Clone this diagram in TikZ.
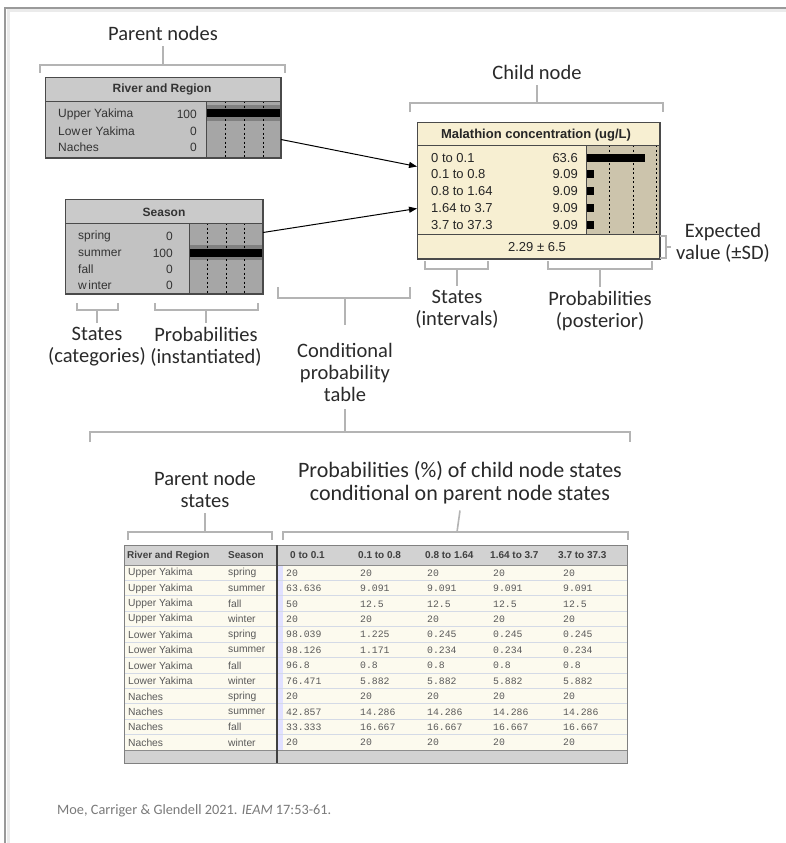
\documentclass[tikz,border=0pt]{standalone}
\usepackage{fontspec}
\setmainfont{Carlito}
\newfontfamily\arialf{Liberation Sans}
\newfontfamily\monof{Liberation Mono}
\usetikzlibrary{arrows.meta}
\definecolor{brkc}{HTML}{B4B4B4}
\definecolor{txtc}{HTML}{2A2A2A}
\definecolor{ptitle}{HTML}{CACACA}
\definecolor{pbody}{HTML}{C2C2C2}
\definecolor{pbar}{HTML}{A6A6A6}
\definecolor{pband}{HTML}{808080}
\definecolor{cbody}{HTML}{F7EFD2}
\definecolor{cbar}{HTML}{CCC4AC}
\definecolor{nborder}{HTML}{4A4A4A}
\definecolor{thead}{HTML}{D2D2D2}
\definecolor{trow}{HTML}{FCFAEE}
\definecolor{tline}{HTML}{D4DAE6}
\definecolor{tfoot}{HTML}{D2D2D2}
\definecolor{ttext}{HTML}{5A5A5A}
\definecolor{citec}{HTML}{7A7A7A}
\definecolor{framec}{HTML}{9A9A9A}
\tikzset{
  annot/.style={font=\fontsize{20.5}{22}\selectfont, text=txtc, align=center, inner sep=0pt},
  annotl/.style={annot, font=\fontsize{22}{23}\selectfont},
  brk/.style={draw=brkc, line width=1.6pt},
  nbox/.style={draw=nborder, line width=1pt, anchor=north west, inner sep=0pt},
  ptxt/.style={font=\arialf\fontsize{12}{12}\selectfont, text=black!80, inner sep=0pt},
  ctxt/.style={font=\arialf\fontsize{13}{13}\selectfont, text=black!85, inner sep=0pt},
  dsh/.style={draw=black, dash pattern=on 2pt off 2.5pt, line width=0.9pt},
  tname/.style={font=\arialf\fontsize{10.3}{10.3}\selectfont, text=ttext, inner sep=0pt, anchor=west},
  tnum/.style={font=\monof\fontsize{9.8}{9.8}\selectfont, text=ttext, inner sep=0pt, anchor=west},
  thd/.style={font=\arialf\bfseries\fontsize{10}{10}\selectfont, text=black!75, inner sep=0pt, anchor=west},
  arr/.style={draw=black, line width=1pt, -{Triangle[length=8pt,width=6pt]}}
}
\begin{document}
\begin{tikzpicture}[x=1pt,y=-1pt]
\useasboundingbox (0,0) rectangle (786,843);
\fill[white] (0,0) rectangle (786,843);
% frame
\draw[black!8, line width=3pt] (8,843) -- (8,11) -- (786,11);
\draw[framec, line width=1.3pt] (5,843) -- (5,8) -- (786,8);

% ---------- River and Region ----------
\node[nbox, fill=pbody, minimum width=235pt, minimum height=80pt] (river) at (45,77) {};
\fill[ptitle] (45.5,77.5) rectangle (279.5,101);
\fill[pbar] (206,101) rectangle (279.5,156.5);
\fill[pband] (206,105) rectangle (279.5,121);
\fill[black] (206,109) rectangle (279.5,117);
\foreach \xx in {225,244,263} {\draw[dsh] (\xx,101) -- (\xx,157);}
\draw[nborder, line width=1pt] (45,101) -- (280,101);
\draw[nborder, line width=0.8pt] (206,101) -- (206,157);
\draw[nborder, line width=1pt] (river.north west) rectangle (river.south east);
\node[ptxt, font=\arialf\bfseries\fontsize{12}{12}\selectfont] (rtitle) at (162,89) {River and Region};
\node[ptxt, anchor=west] (r1) at (58,114) {Upper Yakima};
\node[ptxt, anchor=west] (r2) at (58,131) {Low\kern1.5pt er Yakima};
\node[ptxt, anchor=west] (r3) at (58,147) {Naches};
\node[ptxt, anchor=east] (v1) at (197,114) {100};
\node[ptxt, anchor=east] (v2) at (197,131) {0};
\node[ptxt, anchor=east] (v3) at (197,147) {0};

% ---------- Season ----------
\node[nbox, fill=pbody, minimum width=197pt, minimum height=94pt] (season) at (65,199) {};
\fill[ptitle] (65.5,199.5) rectangle (261.5,223);
\fill[pbar] (189,223) rectangle (261.5,292.5);
\fill[pband] (189,245) rectangle (261.5,260);
\fill[black] (189,249) rectangle (261.5,257);
\foreach \xx in {207,226,244} {\draw[dsh] (\xx,223) -- (\xx,293);}
\draw[nborder, line width=1pt] (65,223) -- (262,223);
\draw[nborder, line width=0.8pt] (189,223) -- (189,293);
\draw[nborder, line width=1pt] (season.north west) rectangle (season.south east);
\node[ptxt, font=\arialf\bfseries\fontsize{12}{12}\selectfont] (stitle) at (164,212) {Season};
\node[ptxt, anchor=west] (s1) at (78,236) {spring};
\node[ptxt, anchor=west] (s2) at (78,253) {summer};
\node[ptxt, anchor=west] (s3) at (78,269) {fall};
\node[ptxt, anchor=west] (s4) at (78,285) {w\kern1.5pt inter};
\node[ptxt, anchor=east] (sv1) at (173,236) {0};
\node[ptxt, anchor=east] (sv2) at (173,253) {100};
\node[ptxt, anchor=east] (sv3) at (173,269) {0};
\node[ptxt, anchor=east] (sv4) at (173,285) {0};

% ---------- Malathion ----------
\node[nbox, fill=cbody, minimum width=242pt, minimum height=136pt] (mal) at (417,122) {};
\fill[cbar] (586,145) rectangle (658.5,234);
\foreach \xx in {609,633,656} {\draw[dsh] (\xx,145) -- (\xx,234);}
\fill[black] (586,154) rectangle (645,162);
\foreach \yy in {174,191,208,225} {\fill[black] (586,\yy-4) rectangle (594,\yy+4);}
\draw[nborder, line width=1pt] (417,145) -- (659,145);
\draw[nborder, line width=1pt] (417,234) -- (659,234);
\draw[nborder, line width=0.8pt] (586,145) -- (586,234);
\draw[nborder, line width=1pt] (mal.north west) rectangle (mal.south east);
\node[ctxt, font=\arialf\bfseries\fontsize{13}{13}\selectfont] (mtitle) at (536,135) {Malathion concentration (ug/L)};
\node[ctxt, anchor=west] (m1) at (431,158) {0 to 0.1};
\node[ctxt, anchor=west] (m2) at (431,174) {0.1 to 0.8};
\node[ctxt, anchor=west] (m3) at (431,191) {0.8 to 1.64};
\node[ctxt, anchor=west] (m4) at (431,208) {1.64 to 3.7};
\node[ctxt, anchor=west] (m5) at (431,225) {3.7 to 37.3};
\node[ctxt, anchor=east] (mv1) at (578,158) {63.6};
\node[ctxt, anchor=east] (mv2) at (578,174) {9.09};
\node[ctxt, anchor=east] (mv3) at (578,191) {9.09};
\node[ctxt, anchor=east] (mv4) at (578,208) {9.09};
\node[ctxt, anchor=east] (mv5) at (578,225) {9.09};
\node[ctxt] (mexp) at (537,247) {2.29 ± 6.5};

% arrows
\draw[arr] ([yshift=-22pt]river.east) -- ([yshift=24pt]mal.west);
\draw[arr] ([yshift=14pt]season.east) -- ([yshift=-18pt]mal.west);

% ---------- annotations ----------
\node[annot] (lpn) at (163,33) {Parent nodes};
\coordinate (bpn) at (163,65);
\draw[brk] (40,73) -- (40,65) -- (285,65) -- (285,73);
\draw[brk] ([yshift=-6pt]lpn.south) -- (bpn);

\node[annot] (lcn) at (537,72) {Child node};
\coordinate (bcn) at (537,103);
\draw[brk] (410,112) -- (410,103) -- (663,103) -- (663,112);
\draw[brk] ([yshift=-6pt]lcn.south) -- (bcn);

\node[annot] (lev) at (723,243) {Expected\\value (±SD)};
\coordinate (bev) at (666,247);
\draw[brk] (660,236) -- (666,236) -- (666,258) -- (660,258);
\draw[brk] (bev) -- ([xshift=-5pt]lev.west |- bev);

\node[annot] (lsi) at (457,309) {States\\(intervals)};
\coordinate (bsi) at (457,269);
\draw[brk] (425,261) -- (425,269) -- (488,269) -- (488,261);
\draw[brk] (bsi) -- ([yshift=4pt]lsi.north);

\node[annot] (lpp) at (600,311) {Probabilities\\(posterior)};
\coordinate (bpp) at (600,269);
\draw[brk] (548,261) -- (548,269) -- (652,269) -- (652,261);
\draw[brk] (bpp) -- ([yshift=4pt]lpp.north);

\node[annot] (lsc) at (97,347) {States\\(categories)};
\coordinate (bsc) at (97,310);
\draw[brk] (77,303) -- (77,310) -- (118,310) -- (118,303);
\draw[brk] (bsc) -- ([yshift=4pt]lsc.north);

\node[annot] (lpi) at (206,347) {Probabilities\\(instantiated)};
\coordinate (bpi) at (206,310);
\draw[brk] (155,303) -- (155,310) -- (258,310) -- (258,303);
\draw[brk] (bpi) -- ([yshift=4pt]lpi.north);

\node[annot] (lcpt) at (345,372) {Conditional\\probability\\table};
\coordinate (bcpt) at (345,298);
\draw[brk] (278,287) -- (278,298) -- (410,298) -- (410,287);
\draw[brk] (bcpt) -- ([yshift=18pt]lcpt.north);
\coordinate (bbig) at (345,432);
\draw[brk] (90,442) -- (90,432) -- (630,432) -- (630,442);
\draw[brk] ([yshift=-8pt]lcpt.south) -- (bbig);

\node[annot] (lps) at (205,489) {Parent node\\states};
\coordinate (bps) at (205,532);
\draw[brk] (128,540) -- (128,532) -- (272,532) -- (272,540);
\draw[brk] ([yshift=-6pt]lps.south) -- (bps);

\node[annotl] (lpc) at (460,483) {Probabilities (\%) of child node states\\conditional on parent node states};
\coordinate (bpc) at (457,532);
\draw[brk] (283,540) -- (283,532) -- (628,532) -- (628,540);
\draw[brk] ([yshift=-6pt]lpc.south) -- (bpc);

% ---------- table ----------
\fill[trow] (124,565) rectangle (627,750);
\fill[thead] (124,545) rectangle (627,565);
\fill[tfoot] (124,750) rectangle (627,763);
\fill[blue!12] (278,565) rectangle (283,750);
\foreach \k in {0,...,11} {\draw[tline, line width=0.8pt] (124,565+15.42*\k) -- (627,565+15.42*\k);}
\draw[black!45, line width=0.8pt] (124,565) -- (627,565);
\draw[black!45, line width=0.8pt] (124,750) -- (627,750);
\draw[black!50, line width=1pt] (124,545) rectangle (627,763);
\draw[black!75, line width=2pt] (277,545) -- (277,763);
\node[thd] (h1) at (127,555.5) {River and Region};
\node[thd] (h2) at (228,555.5) {Season};
\node[thd] (h3) at (290,555.5) {0 to 0.1};
\node[thd] (h4) at (358,555.5) {0.1 to 0.8};
\node[thd] (h5) at (425,555.5) {0.8 to 1.64};
\node[thd] (h6) at (490,555.5) {1.64 to 3.7};
\node[thd] (h7) at (558,555.5) {3.7 to 37.3};
\foreach \n/\s/\a/\b/\c/\d/\e [count=\i from 0] in {
  Upper Yakima/spring/20/20/20/20/20,
  Upper Yakima/summer/63.636/9.091/9.091/9.091/9.091,
  Upper Yakima/fall/50/12.5/12.5/12.5/12.5,
  Upper Yakima/winter/20/20/20/20/20,
  Lower Yakima/spring/98.039/1.225/0.245/0.245/0.245,
  Lower Yakima/summer/98.126/1.171/0.234/0.234/0.234,
  Lower Yakima/fall/96.8/0.8/0.8/0.8/0.8,
  Lower Yakima/winter/76.471/5.882/5.882/5.882/5.882,
  Naches/spring/20/20/20/20/20,
  Naches/summer/42.857/14.286/14.286/14.286/14.286,
  Naches/fall/33.333/16.667/16.667/16.667/16.667,
  Naches/winter/20/20/20/20/20} {
  \pgfmathsetmacro\yy{573+15.42*\i}
  \node[tname] (tn\i) at (128,\yy) {\n};
  \node[tname] (ts\i) at (228,\yy) {\s};
  \node[tnum] (ta\i) at (286,\yy) {\a};
  \node[tnum] (tb\i) at (360,\yy) {\b};
  \node[tnum] (tc\i) at (427,\yy) {\c};
  \node[tnum] (td\i) at (493,\yy) {\d};
  \node[tnum] (te\i) at (563,\yy) {\e};
}

% citation
\node[font=\fontsize{14.3}{15}\selectfont, text=citec, anchor=west, inner sep=0pt] (cite) at (57,811) {Moe, Carriger \& Glendell 2021. \textit{IEAM} 17:53-61.};
\end{tikzpicture}
\end{document}
